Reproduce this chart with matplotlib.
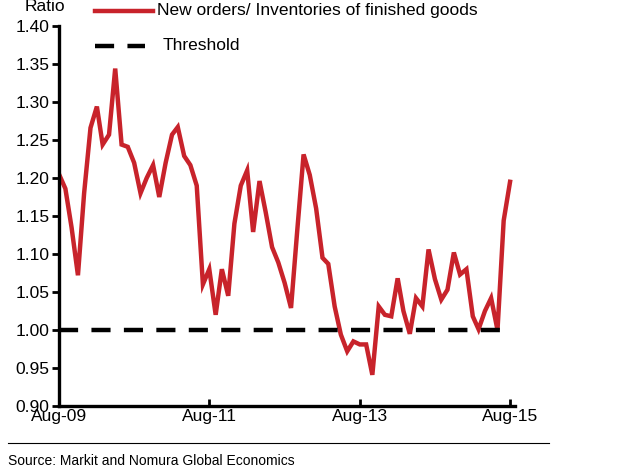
import numpy as np
import pandas as pd
import matplotlib
matplotlib.use('Agg')
import matplotlib.pyplot as plt
import matplotlib.dates as mdates

plt.rcParams['font.family'] = ['Liberation Sans', 'DejaVu Sans']

# monthly ratio, Aug-09 .. Aug-15
ratio = [1.205, 1.186, 1.135, 1.072, 1.180, 1.266, 1.294, 1.244, 1.257, 1.344,
         1.244, 1.241, 1.220, 1.180, 1.200, 1.217, 1.175, 1.220, 1.257, 1.267,
         1.229, 1.217, 1.190, 1.060, 1.080, 1.020, 1.080, 1.045, 1.140, 1.190,
         1.210, 1.129, 1.196, 1.155, 1.109, 1.089, 1.062, 1.029, 1.130, 1.231,
         1.204, 1.160, 1.095, 1.087, 1.031, 0.994, 0.972, 0.985, 0.981, 0.981,
         0.941, 1.031, 1.020, 1.018, 1.068, 1.025, 0.995, 1.042, 1.031, 1.106,
         1.067, 1.040, 1.053, 1.102, 1.073, 1.080, 1.018, 1.001, 1.025, 1.042,
         1.000, 1.144, 1.195]
dates = pd.date_range('2009-08-01', periods=len(ratio), freq='MS')
threshold = [1.0] * 72

ytick_vals = np.arange(0.90, 1.401, 0.05)
xtick_dates = pd.to_datetime(['2009-08-01', '2011-08-01', '2013-08-01', '2015-08-01'])
xtick_labels = ['Aug-09', 'Aug-11', 'Aug-13', 'Aug-15']

W, H = 639, 471
fig = plt.figure(figsize=(W / 100, H / 100), dpi=100)
ax = fig.add_axes([59 / W, 1 - 406 / H, 456 / W, 380 / H])

red = '#C8232B'
ax.plot(dates, ratio, c=red, lw=3.2, solid_joinstyle='miter')
ax.plot(dates[:len(threshold)], threshold, c='black', lw=3.2,
        linestyle=(0, (4.3, 3.0)), dash_capstyle='butt')

ax.set_ylim(0.90, 1.40)
ax.set_xlim(pd.Timestamp('2009-08-01'), pd.Timestamp('2015-08-25'))
ax.set_yticks(ytick_vals)
ax.set_yticklabels([f'{v:.2f}' for v in ytick_vals])
ax.set_xticks(xtick_dates)
ax.set_xticklabels(xtick_labels)

for s in ['top', 'right']:
    ax.spines[s].set_visible(False)
for s in ['left', 'bottom']:
    ax.spines[s].set_linewidth(2.4)
ax.tick_params(axis='y', direction='out', length=5, width=2, labelsize=12.5, pad=2)
ax.tick_params(axis='x', direction='in', length=5, width=2, labelsize=12.5, pad=2)

# pixel helpers for the hand-made legend and notes
def fx(px):
    return px / W

def fy(py):
    return 1 - py / H

fig.text(fx(25), fy(-1), 'Ratio', fontsize=12.5, va='top', ha='left')

# legend drawn by hand (entries are spaced differently in the original)
fig.add_artist(plt.Line2D([fx(95), fx(153)], [fy(11), fy(11)], color=red, lw=3.2))
fig.text(fx(157), fy(11), 'New orders/ Inventories of finished goods', fontsize=12.5,
         va='center', ha='left')
fig.add_artist(plt.Line2D([fx(95), fx(145)], [fy(46), fy(46)], color='black', lw=3.2,
                          linestyle=(0, (4.3, 3.0)), dash_capstyle='butt'))
fig.text(fx(163), fy(46), 'Threshold', fontsize=12.5, va='center', ha='left')

fig.add_artist(plt.Line2D([fx(8), fx(549)], [fy(443), fy(443)], color='black', lw=0.8))
fig.text(fx(8), fy(461), 'Source: Markit and Nomura Global Economics', fontsize=10,
         va='center', ha='left')

fig.savefig('out.png', dpi=100)
